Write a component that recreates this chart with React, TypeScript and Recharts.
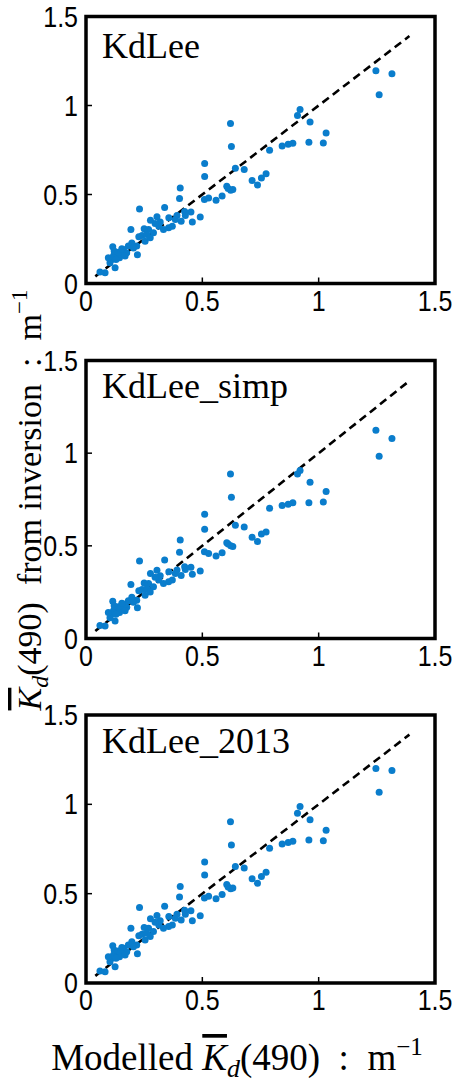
import React from 'react';
import { ScatterChart, Scatter, XAxis, YAxis, ReferenceArea, ReferenceLine } from 'recharts';

// Modelled Kd(490) (m^-1), shared by all three panels
const modelledKd = [
  1.246, 1.315, 1.260, 0.920, 0.909, 0.963, 0.621, 1.032, 0.958, 1.020,
  0.625, 0.889, 0.869, 0.843, 0.789, 0.510, 0.510, 0.642, 0.680, 0.774,
  0.754, 0.714, 0.737, 0.605, 0.611, 0.622, 0.631, 0.585, 0.559, 0.527,
  0.509, 0.405, 0.402, 0.491, 0.451, 0.457, 0.424, 0.427, 0.409, 0.384,
  0.391, 0.371, 0.355, 0.356, 0.338, 0.319, 0.305, 0.313, 0.297, 0.277,
  0.269, 0.250, 0.230, 0.241, 0.227, 0.193, 0.218, 0.221, 0.197, 0.182,
  0.161, 0.154, 0.135, 0.118, 0.111, 0.115, 0.125, 0.103, 0.082, 0.060,
  0.261, 0.290, 0.175, 0.144, 0.168, 0.204, 0.254, 0.276, 0.333, 0.139,
  0.129, 0.096, 0.154, 0.121,
];

// Kd(490) from inversion, KdLee
const kdLee = [
  1.195, 1.178, 1.060, 0.978, 0.944, 0.908, 0.899, 0.846, 0.794, 0.790,
  0.770, 0.788, 0.783, 0.773, 0.749, 0.674, 0.601, 0.648, 0.640, 0.616,
  0.592, 0.579, 0.554, 0.547, 0.534, 0.524, 0.528, 0.491, 0.468, 0.481,
  0.472, 0.536, 0.478, 0.373, 0.401, 0.345, 0.404, 0.382, 0.350, 0.360,
  0.382, 0.322, 0.313, 0.369, 0.427, 0.345, 0.375, 0.322, 0.337, 0.356,
  0.303, 0.307, 0.419, 0.270, 0.262, 0.303, 0.210, 0.161, 0.228, 0.210,
  0.191, 0.163, 0.169, 0.154, 0.135, 0.206, 0.088, 0.116, 0.060, 0.064,
  0.275, 0.285, 0.172, 0.144, 0.154, 0.200, 0.238, 0.257, 0.303, 0.176,
  0.135, 0.144, 0.195, 0.182,
];

// Kd(490) from inversion, KdLee_simp
const kdLeeSimp = [
  1.123, 1.079, 0.984, 0.906, 0.888, 0.843, 0.888, 0.793, 0.732, 0.737,
  0.762, 0.732, 0.724, 0.717, 0.703, 0.670, 0.589, 0.611, 0.602, 0.575,
  0.564, 0.546, 0.524, 0.517, 0.510, 0.501, 0.497, 0.463, 0.445, 0.459,
  0.468, 0.532, 0.465, 0.364, 0.384, 0.346, 0.387, 0.372, 0.340, 0.351,
  0.370, 0.315, 0.306, 0.360, 0.423, 0.338, 0.368, 0.316, 0.330, 0.351,
  0.297, 0.300, 0.418, 0.265, 0.257, 0.292, 0.206, 0.166, 0.222, 0.204,
  0.186, 0.158, 0.164, 0.150, 0.131, 0.201, 0.094, 0.112, 0.067, 0.070,
  0.269, 0.279, 0.168, 0.140, 0.150, 0.195, 0.233, 0.251, 0.297, 0.171,
  0.131, 0.140, 0.190, 0.177,
];

// Kd(490) from inversion, KdLee_2013
const kdLee2013 = [
  1.200, 1.190, 1.068, 0.988, 0.950, 0.914, 0.903, 0.855, 0.800, 0.796,
  0.773, 0.793, 0.787, 0.778, 0.754, 0.677, 0.605, 0.652, 0.644, 0.620,
  0.596, 0.584, 0.558, 0.551, 0.538, 0.528, 0.532, 0.495, 0.472, 0.485,
  0.476, 0.540, 0.482, 0.376, 0.404, 0.348, 0.407, 0.385, 0.353, 0.363,
  0.385, 0.325, 0.316, 0.372, 0.430, 0.348, 0.378, 0.325, 0.340, 0.359,
  0.306, 0.310, 0.422, 0.273, 0.265, 0.306, 0.213, 0.164, 0.231, 0.213,
  0.194, 0.166, 0.172, 0.157, 0.138, 0.209, 0.091, 0.119, 0.063, 0.067,
  0.278, 0.288, 0.175, 0.147, 0.157, 0.203, 0.241, 0.260, 0.306, 0.179,
  0.138, 0.147, 0.198, 0.185,
];

const panelNames = ['KdLee', 'KdLee_simp', 'KdLee_2013'];
const panelSeries = [kdLee, kdLeeSimp, kdLee2013];
const axisTicks = [0, 0.5, 1, 1.5];
const innerTicks = [0.5, 1];
const oneToOne = [0.04, 1.39];

const DOT = '#0a7dcc';
const TICK_FONT = '"Liberation Sans", Arial, sans-serif';
const SERIF = '"Liberation Serif", "Times New Roman", serif';
const STRETCH = 1.18;
const NB = '\u00a0';

// placement of each panel on the page
const panels = [
  { top: 0, height: 320, plotTop: 16.5, plotBottom: 283.5, titleY: 58 },
  { top: 340, height: 340, plotTop: 20.5, plotBottom: 298.5, titleY: 58 },
  { top: 690, height: 330, plotTop: 25, plotBottom: 293, titleY: 63 },
];
const PLOT_LEFT = 86;
const PLOT_RIGHT = 435;
const WIDTH = 452;

const fmt = (v: number) => (v === 0 ? '0' : v === 1 ? '1' : v === 1.5 ? '1.5' : '0.5');

const XTick = (p: any) => (
  <g transform={`translate(${p.x},${p.y + 27}) scale(1,${STRETCH})`}>
    <text x={0} y={0} textAnchor="middle" fontFamily={TICK_FONT} fontSize={25} fill="#000">
      {fmt(p.payload.value)}
    </text>
  </g>
);

const YTick = (p: any) => (
  <g transform={`translate(${p.x},${p.y + 10}) scale(1,${STRETCH})`}>
    <text x={0} y={0} textAnchor="end" fontFamily={TICK_FONT} fontSize={25} fill="#000">
      {fmt(p.payload.value)}
    </text>
  </g>
);

const Dot = (p: any) => <circle cx={p.cx} cy={p.cy} r={3.5} fill={DOT} />;

function Panel({ idx }: { idx: number }) {
  const cfg = panels[idx];
  const ys = panelSeries[idx];
  const data = modelledKd.map((x, i) => ({ x, y: ys[i] }));
  const axisH = cfg.height - cfg.plotBottom;
  return (
    <div style={{ position: 'absolute', left: 0, top: cfg.top }}>
      <ScatterChart
        width={WIDTH}
        height={cfg.height}
        margin={{ top: cfg.plotTop - 1, right: WIDTH - PLOT_RIGHT - 1, bottom: 0, left: 0 }}
      >
        <XAxis
          type="number"
          dataKey="x"
          domain={[0, 1.5]}
          ticks={axisTicks}
          interval={0}
          height={axisH}
          axisLine={false}
          tickSize={-6}
          tickMargin={6}
          tickLine={{ stroke: '#000', strokeWidth: 1.5 }}
          tick={XTick}
          allowDataOverflow
        />
        <YAxis
          type="number"
          dataKey="y"
          domain={[0, 1.5]}
          ticks={axisTicks}
          interval={0}
          width={PLOT_LEFT}
          axisLine={false}
          tickSize={-6}
          tickMargin={14}
          tickLine={{ stroke: '#000', strokeWidth: 1.5 }}
          tick={YTick}
          allowDataOverflow
        />
        <XAxis
          xAxisId="top"
          orientation="top"
          type="number"
          domain={[0, 1.5]}
          ticks={innerTicks}
          interval={0}
          height={1}
          axisLine={false}
          tickSize={-6}
          tickLine={{ stroke: '#000', strokeWidth: 1.5 }}
          tick={false}
        />
        <YAxis
          yAxisId="right"
          orientation="right"
          type="number"
          domain={[0, 1.5]}
          ticks={innerTicks}
          interval={0}
          width={1}
          axisLine={false}
          tickSize={-6}
          tickLine={{ stroke: '#000', strokeWidth: 1.5 }}
          tick={false}
        />
        <ReferenceLine
          segment={[
            { x: oneToOne[0], y: oneToOne[0] },
            { x: oneToOne[1], y: oneToOne[1] },
          ]}
          stroke="#000"
          strokeWidth={2.6}
          strokeDasharray="8 5"
        />
        <Scatter data={data} shape={Dot} isAnimationActive={false} />
        <ReferenceArea
          x1={0}
          x2={1.5}
          y1={0}
          y2={1.5}
          fill="none"
          fillOpacity={0}
          stroke="#000"
          strokeWidth={3.5}
        />
      </ScatterChart>
    </div>
  );
}

export default function App() {
  return (
    <div style={{ position: 'absolute', left: 0, top: 0, width: WIDTH, height: 1082, background: '#fff' }}>
      {panels.map((_, i) => (
        <Panel key={i} idx={i} />
      ))}
      <svg
        width={WIDTH}
        height={1082}
        style={{ position: 'absolute', left: 0, top: 0, pointerEvents: 'none' }}
      >
        {panels.map((cfg, i) => (
          <text
            key={i}
            x={102}
            y={cfg.top + cfg.titleY}
            fontFamily={SERIF}
            fontSize={36}
            fill="#000"
          >
            {panelNames[i]}
          </text>
        ))}
        <text x={237} y={1070} textAnchor="middle" fontFamily={SERIF} fontSize={37} fill="#000">
          <tspan>{`Modelled${NB}`}</tspan>
          <tspan fontStyle="italic" style={{ textDecoration: 'overline' }}>K</tspan>
          <tspan fontStyle="italic" fontSize={26} dy={7}>d</tspan>
          <tspan dy={-7}>{`(490)${NB}${NB}:${NB}${NB}m`}</tspan>
          <tspan fontSize={25} dy={-15}>−1</tspan>
        </text>
        <text
          transform="translate(41,500) rotate(-90)"
          x={0}
          y={0}
          textAnchor="middle"
          fontFamily={SERIF}
          fontSize={34}
          fill="#000"
        >
          <tspan fontStyle="italic" style={{ textDecoration: 'overline' }}>K</tspan>
          <tspan fontStyle="italic" fontSize={24} dy={7}>d</tspan>
          <tspan dy={-7}>{`(490)${NB}${NB}from${NB}inversion${NB}${NB}:${NB}${NB}m`}</tspan>
          <tspan fontSize={23} dy={-14}>−1</tspan>
        </text>
      </svg>
    </div>
  );
}
